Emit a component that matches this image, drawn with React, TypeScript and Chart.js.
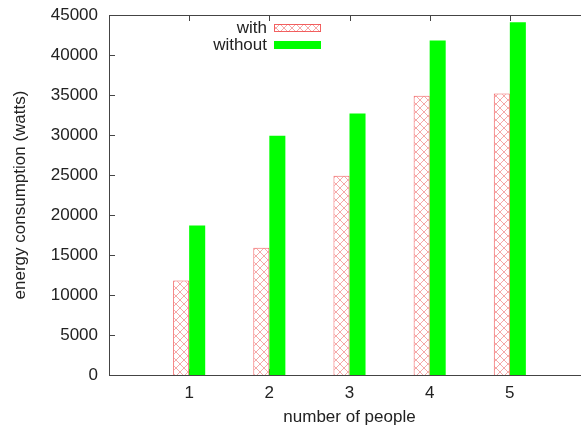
import { useEffect, useRef } from 'react';
import { Chart, registerables } from 'chart.js';

Chart.register(...registerables);

// number of people in the room
const people = [1, 2, 3, 4, 5];
// energy consumption (watts)
const withValues = [11800, 15900, 24900, 34900, 35200];
const withoutValues = [18700, 29900, 32700, 41800, 44100];
const seriesNames = ['with', 'without'];
const yTickValues = [0, 5000, 10000, 15000, 20000, 25000, 30000, 35000, 40000, 45000];
const xRange = [0, 6];

const FONT = '"Liberation Sans", Arial, Helvetica, sans-serif';
const FONT_SIZE = 17;
const TEXT = '#222';
const AXIS = '#444';
const RED = 'rgba(240, 70, 70, 0.85)';
const GREEN = '#00ff00';

function makeHatch(): CanvasPattern | string {
  const c = document.createElement('canvas');
  c.width = 8;
  c.height = 8;
  const g = c.getContext('2d');
  if (!g) return '#fff';
  g.fillStyle = '#ffffff';
  g.fillRect(0, 0, 8, 8);
  g.strokeStyle = 'rgba(238, 110, 110, 0.6)';
  g.lineWidth = 1;
  g.beginPath();
  g.moveTo(0, 0);
  g.lineTo(8, 8);
  g.moveTo(8, 0);
  g.lineTo(0, 8);
  g.stroke();
  return g.createPattern(c, 'repeat') || '#fff';
}

// gnuplot-style frame with inward tick marks on all four sides
const framePlugin = {
  id: 'frame',
  beforeDatasetsDraw(chart: any) {
    const { ctx, chartArea: a, scales } = chart;
    const xs = scales.x;
    const ys = scales.y;
    const len = 6;
    ctx.save();
    ctx.strokeStyle = AXIS;
    ctx.lineWidth = 1;
    ctx.beginPath();
    ctx.rect(Math.round(a.left) + 0.5, Math.round(a.top) + 0.5, Math.round(a.right - a.left), Math.round(a.bottom - a.top));
    for (const v of yTickValues) {
      const y = Math.round(ys.getPixelForValue(v)) + 0.5;
      ctx.moveTo(a.left, y);
      ctx.lineTo(a.left + len, y);
      ctx.moveTo(a.right, y);
      ctx.lineTo(a.right - len, y);
    }
    for (const v of people) {
      const x = Math.round(xs.getPixelForValue(v)) + 0.5;
      ctx.moveTo(x, a.bottom);
      ctx.lineTo(x, a.bottom - len);
      ctx.moveTo(x, a.top);
      ctx.lineTo(x, a.top + len);
    }
    ctx.stroke();
    ctx.restore();
  },
};

// key drawn inside the plot, text right-aligned before its sample box
const keyPlugin = {
  id: 'key',
  afterDatasetsDraw(chart: any) {
    const { ctx } = chart;
    const textRight = 267;
    const boxLeft = 274;
    const boxW = 47;
    const boxH = 8;
    const baselines = [33, 50];
    ctx.save();
    ctx.font = `${FONT_SIZE}px ${FONT}`;
    ctx.textAlign = 'right';
    ctx.textBaseline = 'alphabetic';
    chart.data.datasets.forEach((ds: any, i: number) => {
      const base = baselines[i];
      ctx.fillStyle = TEXT;
      ctx.fillText(seriesNames[i], textRight, base);
      const top = base - 9;
      ctx.fillStyle = ds.backgroundColor;
      ctx.fillRect(boxLeft, top, boxW, boxH);
      if (ds.borderWidth) {
        ctx.strokeStyle = ds.borderColor;
        ctx.lineWidth = 1;
        ctx.strokeRect(boxLeft + 0.5, top + 0.5, boxW - 1, boxH - 1);
      }
    });
    ctx.restore();
  },
};

export default function App() {
  const ref = useRef<HTMLCanvasElement | null>(null);

  useEffect(() => {
    if (!ref.current) return;
    const chart = new Chart(ref.current, {
      type: 'bar',
      data: {
        datasets: [
          {
            label: seriesNames[0],
            data: people.map((p, i) => ({ x: p, y: withValues[i] })),
            backgroundColor: makeHatch() as any,
            borderColor: RED,
            borderWidth: 1,
            borderSkipped: 'bottom',
          },
          {
            label: seriesNames[1],
            data: people.map((p, i) => ({ x: p, y: withoutValues[i] })),
            backgroundColor: GREEN,
            borderWidth: 0,
          },
        ],
      },
      options: {
        responsive: false,
        animation: false,
        events: [],
        categoryPercentage: 0.4,
        barPercentage: 1,
        layout: { padding: { top: 15, right: 10, left: 0, bottom: 0 } },
        plugins: { legend: { display: false }, tooltip: { enabled: false } },
        scales: {
          x: {
            type: 'linear',
            min: xRange[0],
            max: xRange[1],
            offset: false,
            grid: { display: false, drawTicks: false, offset: false },
            border: { display: false },
            ticks: {
              stepSize: 1,
              padding: 8,
              color: TEXT,
              font: { family: FONT, size: FONT_SIZE },
              callback: (v: any) => (people.includes(Number(v)) ? String(v) : ''),
            },
            title: {
              display: true,
              text: 'number of people',
              color: TEXT,
              font: { family: FONT, size: FONT_SIZE },
              padding: { top: 0, bottom: 1 },
            },
            afterFit: (s: any) => {
              s.height = 54;
              s.paddingLeft = 0;
              s.paddingRight = 0;
            },
          },
          y: {
            min: yTickValues[0],
            max: yTickValues[yTickValues.length - 1],
            grid: { display: false, drawTicks: false },
            border: { display: false },
            ticks: {
              stepSize: 5000,
              padding: 11,
              color: TEXT,
              font: { family: FONT, size: FONT_SIZE },
              callback: (v: any) => String(v),
            },
            title: {
              display: true,
              text: 'energy consumption (watts)',
              color: TEXT,
              font: { family: FONT, size: FONT_SIZE },
              padding: { top: 10, bottom: 0 },
            },
            afterFit: (s: any) => {
              s.width = 109;
              s.paddingTop = 0;
              s.paddingBottom = 0;
            },
          },
        },
      } as any,
      plugins: [framePlugin, keyPlugin],
    });
    return () => chart.destroy();
  }, []);

  return (
    <div
      style={{
        position: 'fixed',
        left: 0,
        top: 0,
        width: 581,
        height: 429,
        overflow: 'hidden',
        background: '#fff',
      }}
    >
      <canvas ref={ref} width={600} height={429} style={{ display: 'block' }} />
    </div>
  );
}
